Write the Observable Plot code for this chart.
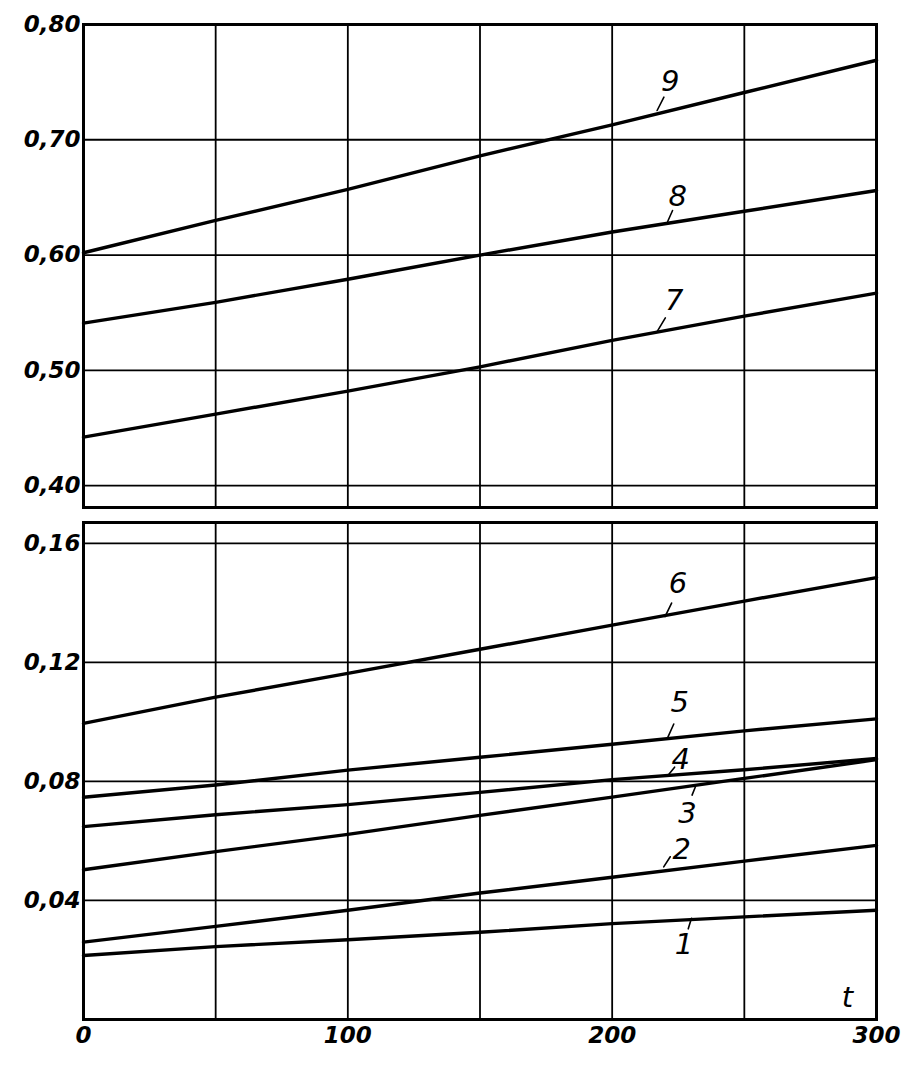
<!DOCTYPE html>
<html>
<head>
<meta charset="utf-8">
<script src="https://cdn.jsdelivr.net/npm/d3@7"></script>
<script src="https://cdn.jsdelivr.net/npm/@observablehq/plot@0.6"></script>
<style>
html, body { margin: 0; padding: 0; background: #fff; }
#chart svg { display: block; }
</style>
</head>
<body>
<div id="chart"></div>
<script>
// ---- data ----
const t = [0, 50, 100, 150, 200, 250, 300];
const curve1 = [0.0215, 0.0245, 0.0268, 0.0293, 0.0322, 0.0345, 0.0367];
const curve2 = [0.0260, 0.0313, 0.0367, 0.0425, 0.0478, 0.0532, 0.0585];
const curve3 = [0.0503, 0.0564, 0.0622, 0.0686, 0.0747, 0.0810, 0.0873];
const curve4 = [0.0648, 0.0688, 0.0722, 0.0763, 0.0806, 0.0839, 0.0877];
const curve5 = [0.0747, 0.0788, 0.0838, 0.0881, 0.0925, 0.0970, 0.1010];
const curve6 = [0.0995, 0.1083, 0.1163, 0.1244, 0.1325, 0.1406, 0.1485];
const curve7 = [0.442, 0.462, 0.482, 0.503, 0.526, 0.547, 0.567];
const curve8 = [0.541, 0.559, 0.579, 0.600, 0.620, 0.638, 0.656];
const curve9 = [0.602, 0.630, 0.657, 0.686, 0.713, 0.741, 0.769];

const topTicks = [0.40, 0.50, 0.60, 0.70, 0.80];
const bottomTicks = [0.04, 0.08, 0.12, 0.16];
const xTicks = [0, 100, 200, 300];
const xGrid = [0, 50, 100, 150, 200, 250, 300];
const xLabel = "t";

const labelNames = ["1", "2", "3", "4", "5", "6", "7", "8", "9"];
const labelT = [230, 219.5, 231.5, 221, 221, 220, 217, 221, 217];
const labelV = [0.0340, 0.0513, 0.0782, 0.0819, 0.0947, 0.1354, 0.5336, 0.6291, 0.7254];

// ---- label layout (styling, not data) ----
const labelLayout = [
  {dx: -7.5, dy: 26, len: 11, rot: 197},
  {dx: 18, dy: -17, len: 12, rot: 33},
  {dx: -8, dy: 27, len: 9, rot: 202},
  {dx: 13, dy: -16, len: 11, rot: 39},
  {dx: 12, dy: -35, len: 15, rot: 24},
  {dx: 13, dy: -33, len: 15, rot: 26},
  {dx: 17, dy: -31, len: 16, rot: 31},
  {dx: 10, dy: -25, len: 12, rot: 24},
  {dx: 13, dy: -29, len: 15, rot: 27}
];

// ---- build tables ----
const bottomSeries = [curve1, curve2, curve3, curve4, curve5, curve6];
const topSeries = [curve7, curve8, curve9];
const toRows = (series, offset) => series.flatMap((vals, i) =>
  vals.map((v, j) => ({t: t[j], v, curve: String(i + offset)})));
const bottomRows = toRows(bottomSeries, 1);
const topRows = toRows(topSeries, 7);
const labels = labelNames.map((name, i) => ({name, t: labelT[i], v: labelV[i], ...labelLayout[i]}));

const fmt = d => d.toFixed(2).replace(".", ",");
const leader = {draw(context, l) { context.moveTo(0, 0); context.lineTo(0, -l); }};

const labelMarks = list => list.flatMap(d => [
  Plot.vector([d], {x: "t", y: "v", length: d.len, rotate: d.rot, anchor: "start",
    shape: leader, stroke: "#000", strokeWidth: 1.6}),
  Plot.text([d], {x: "t", y: "v", text: "name", dx: d.dx, dy: d.dy,
    textAnchor: "middle", lineAnchor: "middle", fontSize: 29, fontStyle: "italic",
    fontFamily: "DejaVu Sans", fill: "#000"})
]);

const common = {
  width: 909, marginLeft: 83, marginRight: 33,
  style: {background: "#fff", fontFamily: "DejaVu Sans", color: "#000", overflow: "visible"}
};
const axisFont = {fontSize: 23, fontStyle: "italic", fontWeight: "bold", fill: "#000", label: null};
const gridStyle = {stroke: "#000", strokeOpacity: 1, strokeWidth: 1.8};

const topPlot = Plot.plot({
  ...common,
  height: 512, marginTop: 24, marginBottom: 5,
  x: {domain: [0, 300], axis: null, label: null},
  y: {domain: [0.381, 0.80], axis: null, label: null},
  marks: [
    Plot.gridX(xGrid, gridStyle),
    Plot.gridY(topTicks, gridStyle),
    Plot.axisY(topTicks, {tickSize: 0, tickPadding: 3, tickFormat: fmt, ...axisFont}),
    Plot.line(topRows, {x: "t", y: "v", z: "curve", stroke: "#000", strokeWidth: 3.4}),
    Plot.frame({stroke: "#000", strokeWidth: 3}),
    ...labelMarks(labels.filter(d => +d.name >= 7))
  ]
});

const bottomPlot = Plot.plot({
  ...common,
  height: 572, marginTop: 10, marginBottom: 65,
  x: {domain: [0, 300], axis: null, label: null},
  y: {domain: [0, 0.167], axis: null, label: null},
  marks: [
    Plot.gridX(xGrid, gridStyle),
    Plot.gridY(bottomTicks, gridStyle),
    Plot.axisY(bottomTicks, {tickSize: 0, tickPadding: 3, tickFormat: fmt, ...axisFont}),
    Plot.axisX(xTicks, {tickSize: 0, tickPadding: 7, tickFormat: d => String(d), ...axisFont}),
    Plot.line(bottomRows, {x: "t", y: "v", z: "curve", stroke: "#000", strokeWidth: 3.4}),
    Plot.frame({stroke: "#000", strokeWidth: 3}),
    Plot.text([xLabel], {frameAnchor: "bottom-right", dx: -29, dy: -22, textAnchor: "middle",
      lineAnchor: "middle", fontSize: 29, fontStyle: "italic", fontFamily: "DejaVu Sans", fill: "#000"}),
    ...labelMarks(labels.filter(d => +d.name <= 6))
  ]
});

const chart = document.getElementById("chart");
chart.append(topPlot, bottomPlot);
</script>
</body>
</html>
